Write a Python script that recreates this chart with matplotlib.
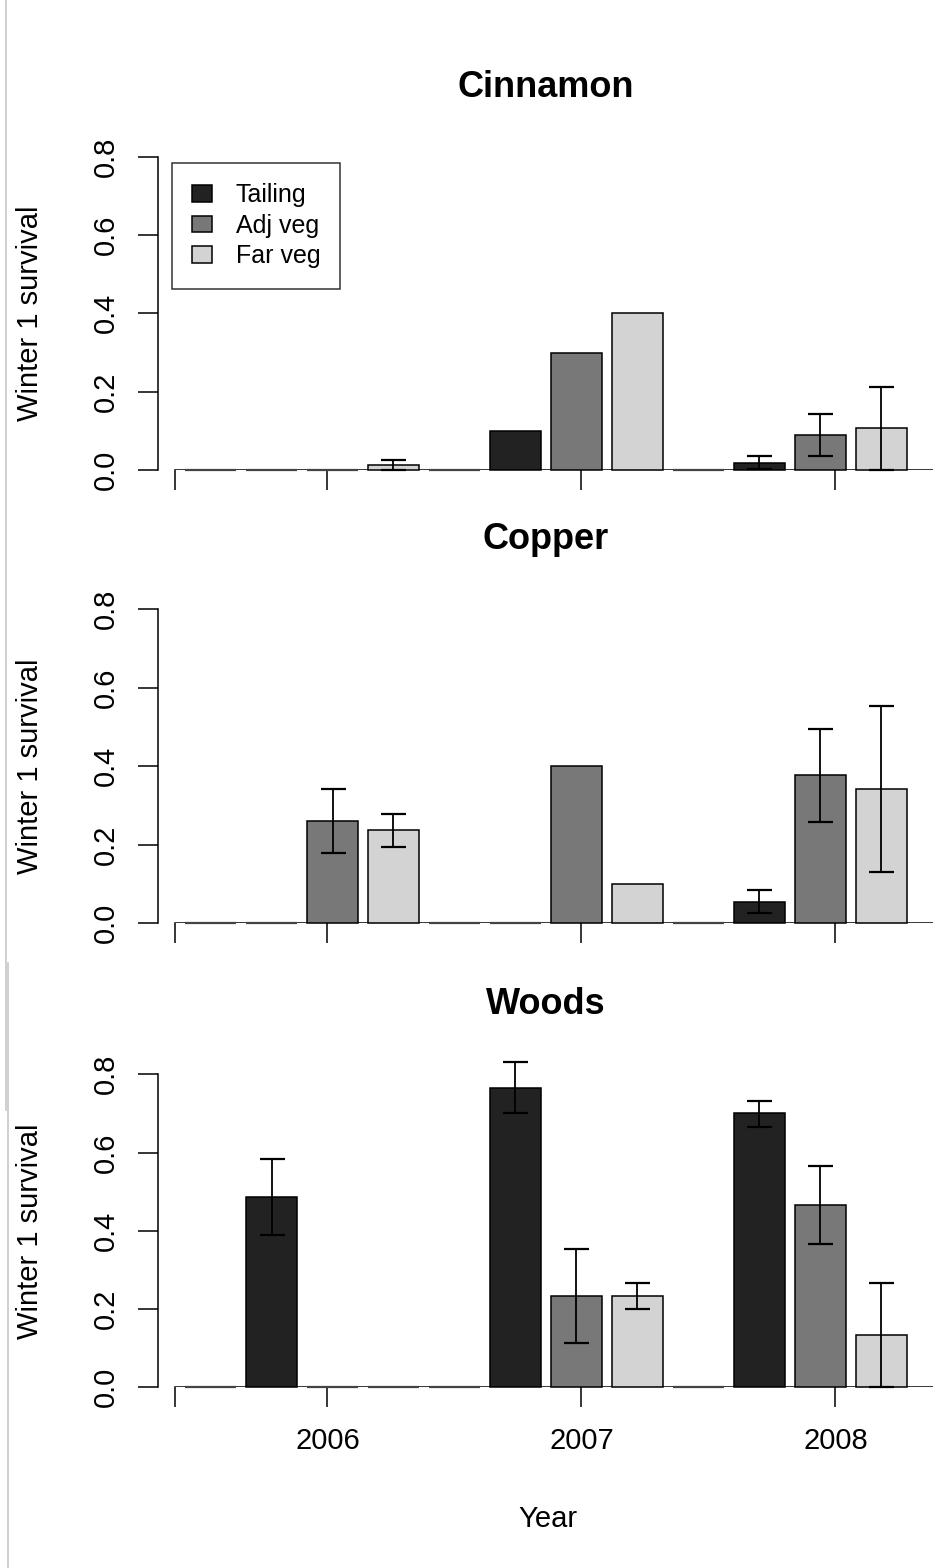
import numpy as np
import matplotlib
matplotlib.use("Agg")
import matplotlib.pyplot as plt
from matplotlib.patches import Patch

plt.rcParams['font.family'] = ['Liberation Sans', 'DejaVu Sans']

# ---------------- data ----------------
years = ["2006", "2007", "2008"]
series = ["Tailing", "Adj veg", "Far veg"]
colors = ["#222222", "#787878", "#d3d3d3"]
panels = ["Cinnamon", "Copper", "Woods"]

# means: rows = series (Tailing, Adj veg, Far veg), cols = years
cinnamon_mean = [[0.0, 0.10, 0.019],
                 [0.0, 0.30, 0.089],
                 [0.012, 0.40, 0.106]]
cinnamon_lo = [[np.nan, np.nan, 0.002],
               [np.nan, np.nan, 0.036],
               [0.0, np.nan, 0.0]]
cinnamon_hi = [[np.nan, np.nan, 0.036],
               [np.nan, np.nan, 0.142],
               [0.025, np.nan, 0.213]]

copper_mean = [[0.0, 0.0, 0.054],
               [0.261, 0.40, 0.377],
               [0.238, 0.10, 0.343]]
copper_lo = [[np.nan, np.nan, 0.025],
             [0.178, np.nan, 0.259],
             [0.195, np.nan, 0.131]]
copper_hi = [[np.nan, np.nan, 0.084],
             [0.341, np.nan, 0.494],
             [0.279, np.nan, 0.554]]

woods_mean = [[0.486, 0.766, 0.700],
              [0.0, 0.234, 0.467],
              [0.0, 0.234, 0.134]]
woods_lo = [[0.388, 0.700, 0.666],
            [np.nan, 0.113, 0.366],
            [np.nan, 0.200, 0.0]]
woods_hi = [[0.583, 0.832, 0.733],
            [np.nan, 0.353, 0.566],
            [np.nan, 0.267, 0.267]]

spacer = [0.0, 0.0, 0.0]  # empty first bar of each group

yticks = [0.0, 0.2, 0.4, 0.6, 0.8]
xtick_pos = [0, 3, 8, 13]
xtick_labels = ["", "2006", "2007", "2008"]

data = [(cinnamon_mean, cinnamon_lo, cinnamon_hi),
        (copper_mean, copper_lo, copper_hi),
        (woods_mean, woods_lo, woods_hi)]

# ---------------- figure ----------------
W, H = 933, 1568
fig = plt.figure(figsize=(W / 100, H / 100), dpi=100)

def fx(px):
    return px / W

def fy(py):
    return 1 - py / H

# pixel positions of y=0 and y=0.8 for each panel
panel_px = [(470.0, 156.7), (923.3, 609.3), (1387.3, 1074.3)]
ax_left, ax_right = 158.0, 934.0
xlim = (-0.335, 14.94)

FS = 21
bar_w = 1.0
pitch = 1.2

for p, (name, (mean, lo, hi), (y0, y8)) in enumerate(zip(panels, data, panel_px)):
    ax = fig.add_axes([fx(ax_left), fy(y0), fx(ax_right - ax_left), (y0 - y8) / H])
    ax.set_xlim(*xlim)
    ax.set_ylim(0, 0.8)
    for s in ["top", "right", "bottom"]:
        ax.spines[s].set_visible(False)
    ax.spines["left"].set_linewidth(1.1)

    # baseline
    ax.plot([0, 20], [0, 0], color="black", lw=1.1, zorder=1, clip_on=True)

    for g in range(len(years)):
        # spacer (empty) bar
        xs = 0.7 + pitch * (4 * g)
        ax.bar(xs, spacer[g], width=bar_w, color="white", edgecolor="#444444",
               linewidth=1.6, zorder=2, clip_on=False)
        for s in range(len(series)):
            x = 0.7 + pitch * (4 * g + 1 + s)
            m = mean[s][g]
            ax.bar(x, m, width=bar_w, color=colors[s],
                   edgecolor="black" if m > 0 else "#444444",
                   linewidth=1.1 if m > 0 else 1.6, zorder=2, clip_on=False)
            if not np.isnan(lo[s][g]):
                ax.errorbar([x], [m], yerr=[[m - lo[s][g]], [hi[s][g] - m]],
                            fmt="none", ecolor="black", elinewidth=1.3,
                            capsize=9, capthick=1.6, zorder=3, clip_on=False)

    ax.set_yticks(yticks)
    ax.set_yticklabels([f"{v:.1f}" for v in yticks])
    ax.tick_params(axis="y", length=14.4, width=1.1, labelsize=FS,
                   labelrotation=90, pad=13)
    ax.set_xticks(xtick_pos)
    if p == 2:
        ax.set_xticklabels(xtick_labels)
    else:
        ax.set_xticklabels([""] * len(xtick_pos))
    ax.tick_params(axis="x", length=14.4, width=1.1, labelsize=FS, pad=14)
    for lab in ax.get_yticklabels():
        lab.set_verticalalignment("center")

    # title
    fig.text(fx(546), fy(y8 - 60), name, ha="center", va="baseline",
             fontsize=26, fontweight="bold")
    # y label
    fig.text(fx(30), fy((y0 + y8) / 2), "Winter 1 survival", rotation=90,
             ha="center", va="center", fontsize=FS)

    if p == 0:
        handles = [Patch(facecolor=c, edgecolor="black", linewidth=1.1) for c in colors]
        leg = ax.legend(handles, series, loc="upper left",
                        bbox_to_anchor=(fx(172), fy(163)),
                        bbox_transform=fig.transFigure, borderaxespad=0,
                        fontsize=18, frameon=True, fancybox=False,
                        handlelength=0.8, handleheight=0.65,
                        handletextpad=0.95, labelspacing=0.27, borderpad=0.8)
        leg.get_frame().set_edgecolor("black")
        leg.get_frame().set_linewidth(1.1)

# x axis title
fig.text(fx(548), fy(1527), "Year", ha="center", va="baseline", fontsize=FS)

# faint left-edge lines of the original image
fig.add_artist(plt.Line2D([fx(6), fx(6)], [fy(0), fy(1110)], color="#c8c8c8", lw=1.2))
fig.add_artist(plt.Line2D([fx(8), fx(8)], [fy(963), fy(1568)], color="#c8c8c8", lw=1.2))

fig.savefig("out.png", dpi=100)
